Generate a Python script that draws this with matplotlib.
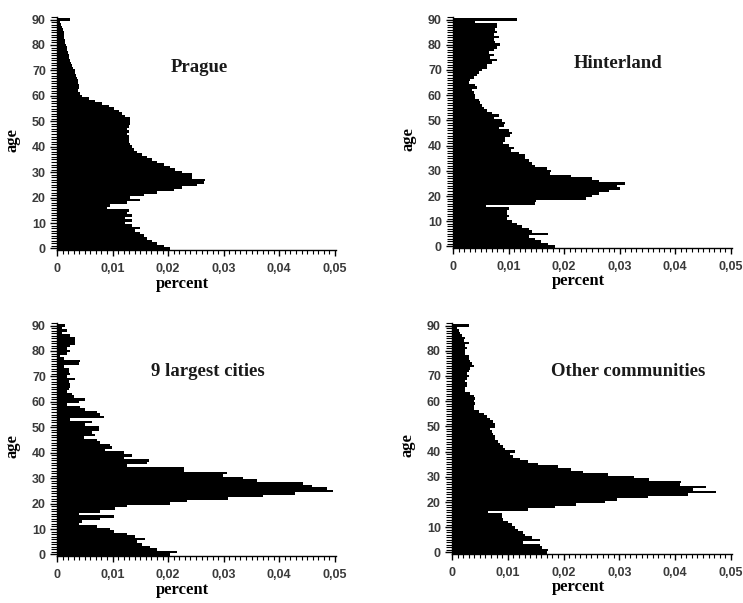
import matplotlib
matplotlib.use("Agg")
import matplotlib.pyplot as plt
from matplotlib.ticker import MultipleLocator, FixedLocator, FixedFormatter

ages = list(range(0, 91))

prague = [
    0.0204, 0.0192, 0.0180, 0.0171, 0.0162, 0.0156, 0.0150, 0.0141, 0.0150, 0.0135,
    0.0123, 0.0135, 0.0123, 0.0135, 0.0126, 0.0129, 0.0090, 0.0096, 0.0126, 0.0150,
    0.0132, 0.0156, 0.0180, 0.0210, 0.0225, 0.0252, 0.0264, 0.0267, 0.0243, 0.0243,
    0.0225, 0.0213, 0.0204, 0.0192, 0.0180, 0.0171, 0.0162, 0.0153, 0.0144, 0.0138,
    0.0135, 0.0132, 0.0129, 0.0129, 0.0129, 0.0126, 0.0129, 0.0126, 0.0129, 0.0132,
    0.0132, 0.0132, 0.0123, 0.0117, 0.0111, 0.0102, 0.0093, 0.0081, 0.0069, 0.0057,
    0.0045, 0.0042, 0.0038, 0.0039, 0.0039, 0.0038, 0.0037, 0.0036, 0.0035, 0.0033,
    0.0032, 0.0029, 0.0027, 0.0025, 0.0024, 0.0022, 0.0021, 0.0019, 0.0018, 0.0018,
    0.0017, 0.0015, 0.0015, 0.0013, 0.0013, 0.0012, 0.0011, 0.0009, 0.0008, 0.0006,
    0.0024,
]

hinterland = [
    0.0183, 0.0171, 0.0159, 0.0148, 0.0136, 0.0171, 0.0142, 0.0136, 0.0124, 0.0115,
    0.0106, 0.0097, 0.0100, 0.0097, 0.0097, 0.0100, 0.0060, 0.0147, 0.0150, 0.0240,
    0.0250, 0.0262, 0.0280, 0.0300, 0.0295, 0.0309, 0.0262, 0.0250, 0.0213, 0.0175,
    0.0177, 0.0170, 0.0148, 0.0142, 0.0136, 0.0130, 0.0130, 0.0118, 0.0105, 0.0109,
    0.0100, 0.0090, 0.0094, 0.0094, 0.0103, 0.0106, 0.0100, 0.0082, 0.0091, 0.0094,
    0.0088, 0.0073, 0.0082, 0.0070, 0.0061, 0.0055, 0.0052, 0.0049, 0.0046, 0.0040,
    0.0040, 0.0037, 0.0034, 0.0043, 0.0040, 0.0028, 0.0031, 0.0037, 0.0043, 0.0046,
    0.0052, 0.0061, 0.0061, 0.0070, 0.0079, 0.0067, 0.0073, 0.0064, 0.0073, 0.0079,
    0.0085, 0.0076, 0.0073, 0.0082, 0.0073, 0.0080, 0.0076, 0.0079, 0.0079, 0.0040,
    0.0115,
]

largest_cities = [
    0.0204, 0.0216, 0.0180, 0.0168, 0.0153, 0.0144, 0.0159, 0.0141, 0.0126, 0.0102,
    0.0096, 0.0072, 0.0039, 0.0045, 0.0078, 0.0102, 0.0039, 0.0078, 0.0105, 0.0126,
    0.0204, 0.0234, 0.0308, 0.0371, 0.0428, 0.0497, 0.0485, 0.0458, 0.0443, 0.0359,
    0.0335, 0.0299, 0.0305, 0.0228, 0.0228, 0.0126, 0.0162, 0.0165, 0.0120, 0.0135,
    0.0120, 0.0087, 0.0099, 0.0096, 0.0078, 0.0072, 0.0048, 0.0069, 0.0063, 0.0075,
    0.0075, 0.0051, 0.0063, 0.0024, 0.0084, 0.0078, 0.0072, 0.0051, 0.0042, 0.0018,
    0.0039, 0.0051, 0.0030, 0.0027, 0.0018, 0.0021, 0.0024, 0.0024, 0.0021, 0.0033,
    0.0018, 0.0024, 0.0021, 0.0021, 0.0012, 0.0039, 0.0042, 0.0012, 0.0006, 0.0018,
    0.0024, 0.0018, 0.0024, 0.0033, 0.0033, 0.0033, 0.0024, 0.0009, 0.0018, 0.0009,
    0.0015,
]

other_communities = [
    0.0170, 0.0173, 0.0161, 0.0158, 0.0128, 0.0158, 0.0143, 0.0131, 0.0128, 0.0119,
    0.0113, 0.0107, 0.0101, 0.0092, 0.0089, 0.0089, 0.0065, 0.0137, 0.0185, 0.0223,
    0.0274, 0.0295, 0.0351, 0.0423, 0.0473, 0.0432, 0.0455, 0.0408, 0.0411, 0.0354,
    0.0327, 0.0280, 0.0235, 0.0214, 0.0190, 0.0155, 0.0137, 0.0122, 0.0110, 0.0104,
    0.0113, 0.0095, 0.0092, 0.0086, 0.0083, 0.0077, 0.0077, 0.0074, 0.0071, 0.0068,
    0.0077, 0.0077, 0.0074, 0.0068, 0.0062, 0.0057, 0.0048, 0.0039, 0.0039, 0.0042,
    0.0039, 0.0042, 0.0039, 0.0033, 0.0024, 0.0024, 0.0027, 0.0027, 0.0024, 0.0027,
    0.0030, 0.0027, 0.0030, 0.0033, 0.0039, 0.0036, 0.0033, 0.0030, 0.0030, 0.0024,
    0.0024, 0.0027, 0.0024, 0.0030, 0.0021, 0.0024, 0.0018, 0.0015, 0.0012, 0.0009,
    0.0030,
]

titles = ["Prague", "Hinterland", "9 largest cities", "Other communities"]
series = [prague, hinterland, largest_cities, other_communities]
x_ticks = [0, 0.01, 0.02, 0.03, 0.04, 0.05]
x_tick_labels = ["0", "0,01", "0,02", "0,03", "0,04", "0,05"]

# axes rectangles in figure fractions (left, bottom, width, height)
W, H = 743, 603
rects = [
    (57 / W, 1 - 250 / H, 279 / W, 233 / H),
    (453 / W, 1 - 248 / H, 279 / W, 231 / H),
    (57 / W, 1 - 556 / H, 279 / W, 233 / H),
    (452 / W, 1 - 554 / H, 280 / W, 231 / H),
]
title_pos = [(0.51, 0.785), (0.59, 0.80), (0.54, 0.79), (0.63, 0.79)]

fig = plt.figure(figsize=(W / 100, H / 100), dpi=100)
fig.patch.set_facecolor("white")

serif = ["Liberation Serif", "DejaVu Serif"]
sans = ["Liberation Sans", "DejaVu Sans"]

for rect, vals, title, tpos in zip(rects, series, titles, title_pos):
    ax = fig.add_axes(rect)
    ax.barh(ages, vals, height=1.0, color="black", linewidth=0)
    ax.set_xlim(0, 0.0502)
    ax.set_ylim(-0.6, 91)

    for side in ("top", "right"):
        ax.spines[side].set_visible(False)
    ax.spines["left"].set_linewidth(1.0)
    ax.spines["bottom"].set_linewidth(1.0)

    ax.xaxis.set_major_locator(FixedLocator(x_ticks))
    ax.xaxis.set_major_formatter(FixedFormatter(x_tick_labels))
    ax.xaxis.set_minor_locator(MultipleLocator(0.001))
    ax.yaxis.set_major_locator(MultipleLocator(10))
    ax.yaxis.set_minor_locator(MultipleLocator(1))

    ax.tick_params(axis="both", which="both", direction="out", color="black")
    ax.tick_params(axis="x", which="major", length=4, width=1, pad=5)
    ax.tick_params(axis="x", which="minor", length=3, width=0.8)
    ax.tick_params(axis="y", which="major", length=5, width=1, pad=3)
    ax.tick_params(axis="y", which="minor", length=4, width=0.8)

    for lab in ax.get_xticklabels() + ax.get_yticklabels():
        lab.set_family(sans)
        lab.set_fontsize(9)
        lab.set_fontweight("bold")
        lab.set_color("#3a3a3a")

    ax.text(0.45, -0.145, "percent", transform=ax.transAxes, ha="center", va="center",
            family=serif, fontsize=12, fontweight="bold")
    ax.text(-0.16, 0.47, "age", transform=ax.transAxes, ha="center", va="center",
            rotation=90, family=serif, fontsize=12, fontweight="bold")
    ax.text(tpos[0], tpos[1], title, transform=ax.transAxes, ha="center", va="center",
            family=serif, fontsize=13.5, fontweight="bold", color="#1a1a1a")

fig.savefig("out.png", dpi=100, facecolor="white")
